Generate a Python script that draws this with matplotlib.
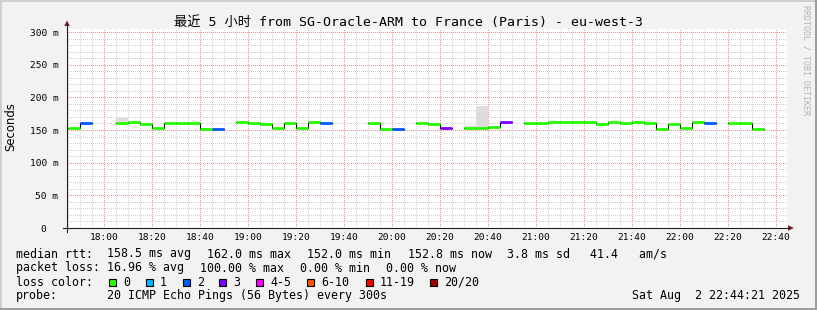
import matplotlib
matplotlib.use('Agg')
import numpy as np
import matplotlib.pyplot as plt
from matplotlib.patches import Rectangle, Polygon
from matplotlib.lines import Line2D

W, H = 817, 310

# 5 minute slots, minutes after midnight (17:45 .. 22:40)
slot_start = list(range(1065, 1365, 5))
median = [153, 161, None, None, 161, 162, 159, 153.5, 161, 161,
          161, 151.5, 152, None, 162.5, 160.5, 159, 152.5, 161, 153,
          162.5, 161, None, None, None, 161, 152, 152, None, 161,
          159.5, 153, None, 152.5, 152.5, 154, 162.5, None, 161, 161,
          162, 162, 162, 162, 159.5, 162.5, 161, 162.5, 160.5, 152,
          159, 153, 162.5, 161, None, 160.5, 160.5, 152, None, None]
smoke_top = [153, 161, None, None, 168, 162, 159, 153.5, 161, 161,
             161, 151.5, 152, None, 162.5, 160.5, 159, 152.5, 161, 153,
             162.5, 161, None, None, None, 161, 152, 152, None, 161,
             159.5, 153, None, 155.5, 186, 154, 162.5, None, 161, 161,
             162, 162, 162, 162, 159.5, 162.5, 161, 162.5, 160.5, 152,
             159, 153, 162.5, 161, None, 160.5, 160.5, 152, None, None]
lost = [0, 2, 20, 20, 0, 0, 0, 0, 0, 0,
        0, 0, 2, 20, 0, 0, 0, 0, 0, 0,
        0, 2, 20, 20, 20, 0, 0, 2, 20, 0,
        0, 3, 20, 0, 0, 0, 3, 20, 0, 0,
        0, 0, 0, 0, 0, 0, 0, 0, 0, 0,
        0, 0, 0, 2, 20, 0, 0, 0, 20, 20]

loss_labels = ['0', '1', '2', '3', '4-5', '6-10', '11-19', '20/20']
loss_colors = ['#26ff00', '#00b8ff', '#0059ff', '#7e00ff', '#ff00ff', '#ff5500', '#ff0000', '#a10000']
loss_bins = [0, 1, 2, 3, 5, 10, 19, 20]

t0 = 17 * 60 + 44.6
t1 = t0 + 300

mono = 'DejaVu Sans Mono'


def fx(x):
    return x / W


def fy(y):
    return 1 - y / H


def color_for(n):
    for b, c in zip(loss_bins, loss_colors):
        if n <= b:
            return c
    return loss_colors[-1]


fig = plt.figure(figsize=(W / 100, H / 100), dpi=100, facecolor='#f2f2f2')
ax = fig.add_axes([fx(67), fy(228), 720 / W, 199 / H])
ax.set_facecolor('white')
ax.set_xlim(t0, t1)
ax.set_ylim(0, 304.6)

# smoke
med = np.array([np.nan if v is None else v for v in median])
top = np.array([np.nan if v is None else v for v in smoke_top])
xs = np.array(slot_start, dtype=float)
ok = ~np.isnan(med)
ax.bar(xs[ok], top[ok] - med[ok], bottom=med[ok], width=5, align='edge',
       color='#dddddd', lw=0, zorder=2)

# black steps
ax.step(list(xs) + [xs[-1] + 5], list(med) + [np.nan], where='post',
        color='black', lw=0.8, zorder=3)
# coloured median
ax.hlines(med[ok], xs[ok], xs[ok] + 5,
          colors=[color_for(n) for n, k in zip(lost, ok) if k], lw=2.0, zorder=4)

# grid / ticks
ax.set_xticks(np.arange(1080, 1361, 20))
ax.set_xticks([m for m in range(1065, 1361, 5) if m % 20], minor=True)
ax.set_xticklabels([f'{m // 60:02d}:{m % 60:02d}' for m in range(1080, 1361, 20)])
ax.set_yticks(np.arange(0, 301, 50))
ax.set_yticks([v for v in range(10, 301, 10) if v % 50], minor=True)
ax.set_yticklabels(['0  '] + [f'{v} m' for v in range(50, 301, 50)])
# half-pixel dash offset so the 1px dots land on whole pixels after snapping
ax.grid(which='minor', color='#d0d0d0', ls=(0.5, (1, 1)), lw=0.72, zorder=1)
ax.grid(which='major', color='#e89494', ls=(0.5, (1, 1)), lw=0.72, zorder=1)
ax.set_axisbelow(True)
ax.tick_params(which='both', length=0)
ax.tick_params(axis='x', pad=3.5, labelsize=6.8)
ax.tick_params(axis='y', pad=6.3, labelsize=6.8)
for lab in ax.get_xticklabels() + ax.get_yticklabels():
    lab.set_family(mono)
for s in ax.spines.values():
    s.set_visible(False)

# axis lines and arrows
fig.add_artist(Line2D([fx(67), fx(67)], [fy(232), fy(24)], color='#1f1f1f', lw=0.8))
fig.add_artist(Line2D([fx(63), fx(790)], [fy(228), fy(228)], color='#1f1f1f', lw=0.8))
fig.add_artist(Polygon([(fx(64.2), fy(26)), (fx(69.8), fy(26)), (fx(67), fy(20.5))],
                       closed=True, color='#7f1f1f', lw=0))
fig.add_artist(Polygon([(fx(788), fy(225.2)), (fx(788), fy(230.8)), (fx(794), fy(228))],
                       closed=True, color='#7f1f1f', lw=0))

# title, y label, watermark
fig.text(0.5, fy(26), '最近 5 小时 from SG-Oracle-ARM to France (Paris) - eu-west-3',
         ha='center', va='baseline', fontsize=9.5, family=[mono, 'Noto Sans CJK SC'])
fig.text(fx(11), fy(127), 'Seconds', rotation=90, ha='center', va='center',
         fontsize=8.4, family='DejaVu Sans')
fig.text(fx(806), fy(5), 'RRDTOOL / TOBI OETIKER', rotation=270, ha='center', va='top',
         fontsize=6, family=mono, color='#b4b4b4')

# legend lines
fs = 8.4
rows = [
    (257.5, [(16, 'median rtt:'), (107, '158.5 ms avg'), (207, '162.0 ms max'),
             (307, '152.0 ms min'), (408, '152.8 ms now'), (507, '3.8 ms sd'),
             (590, '41.4   am/s')]),
    (271.5, [(16, 'packet loss:'), (107, '16.96 % avg'), (200, '100.00 % max'),
             (300, '0.00 % min'), (386, '0.00 % now')]),
    (285.5, [(16, 'loss color:')]),
    (299.5, [(16, 'probe:'), (107, '20 ICMP Echo Pings (56 Bytes) every 300s')]),
]
for y, items in rows:
    for x, s in items:
        fig.text(fx(x), fy(y), s, ha='left', va='baseline', fontsize=fs, family=mono)
fig.text(fx(800), fy(299.5), 'Sat Aug  2 22:44:21 2025', ha='right', va='baseline',
         fontsize=fs, family=mono)

box_x = [109, 146, 183, 219.5, 256, 307, 366, 430]
for bx, c, lab in zip(box_x, loss_colors, loss_labels):
    fig.add_artist(Rectangle((fx(bx), fy(286)), 7 / W, 7 / H, facecolor=c,
                             edgecolor='black', lw=0.8))
    fig.text(fx(bx + 14), fy(285.5), lab, ha='left', va='baseline', fontsize=fs, family=mono)

# 3d frame
fig.add_artist(Rectangle((0, fy(2)), 1, 2 / H, color='#cfcfcf', lw=0))
fig.add_artist(Rectangle((0, 0), 2 / W, 1, color='#cfcfcf', lw=0))
fig.add_artist(Rectangle((0, 0), 1, 2 / H, color='#9e9e9e', lw=0))
fig.add_artist(Rectangle((fx(815), 0), 2 / W, 1, color='#9e9e9e', lw=0))

fig.savefig('out.png', dpi=100, facecolor=fig.get_facecolor())
